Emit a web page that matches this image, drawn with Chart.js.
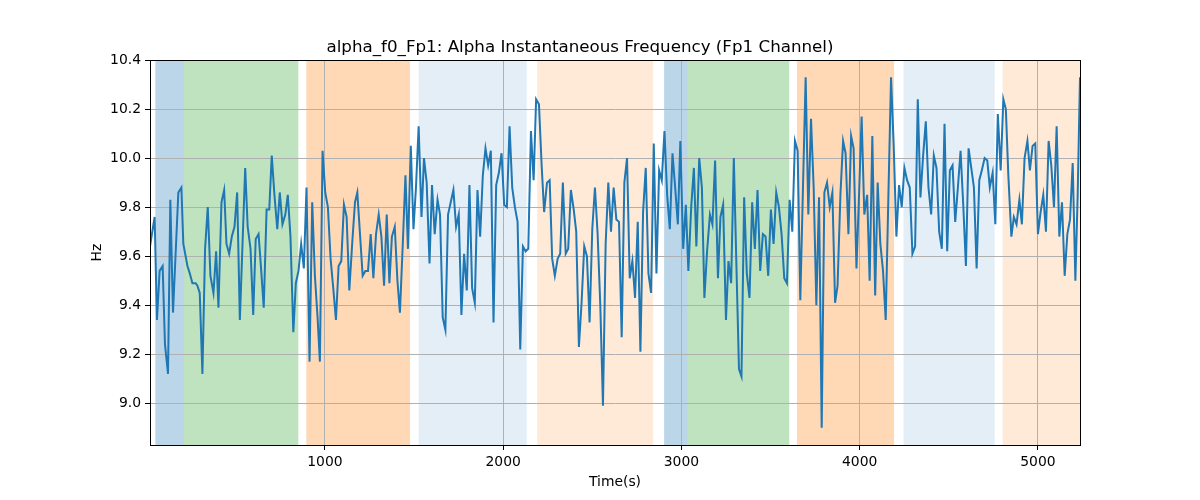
<!DOCTYPE html>
<html>
<head>
<meta charset="utf-8">
<title>alpha_f0_Fp1</title>
<script src="https://cdn.jsdelivr.net/npm/chart.js@4.4.1/dist/chart.umd.min.js"></script>
<style>
  html, body { margin: 0; padding: 0; background: #fff; }
  #wrap { width: 1200px; height: 500px; position: relative; }
</style>
</head>
<body>
<div id="wrap"><canvas id="myChart"></canvas></div>
<script>
// time in seconds
const times = [
  19, 45, 58, 73, 90, 103, 120, 133, 148, 178, 195, 206, 229, 242, 257, 275, 285, 298, 313, 328,
  343, 358, 375, 390, 403, 420, 435, 448, 463,
  478, 493, 508, 523, 538, 553, 567, 583, 598, 612, 628, 643, 657, 673, 688, 702, 717, 733, 747, 762,
  778, 792, 807, 823, 837, 852, 867, 882, 897,
  914, 929, 944, 959, 972, 987, 1002, 1017, 1032, 1047, 1062, 1077, 1092, 1107, 1122, 1137, 1154, 1169,
  1182, 1197, 1212, 1227, 1242, 1257, 1272, 1287, 1302, 1317, 1332,
  1347, 1362, 1376, 1392, 1407, 1421, 1437, 1452, 1466, 1482, 1497, 1511, 1526, 1542, 1556, 1571, 1587,
  1601, 1616, 1632, 1646, 1661, 1676, 1691, 1706, 1721, 1736, 1751, 1766,
  1781, 1796, 1811, 1826, 1841, 1856, 1871, 1886, 1901, 1916, 1931, 1946, 1961, 1976, 1991, 2006, 2021,
  2036, 2051, 2066, 2081, 2096, 2111, 2126, 2141, 2156, 2171, 2185, 2201, 2216,
  2230, 2246, 2261, 2275, 2290, 2306, 2320, 2335, 2351, 2365, 2380, 2396, 2410, 2425, 2440, 2455, 2470,
  2485, 2500, 2515, 2530, 2545, 2560, 2575, 2590, 2605, 2620, 2635, 2650,
  2665, 2680, 2695, 2710, 2725, 2740, 2755, 2770, 2785, 2800, 2815, 2830, 2845, 2860, 2875, 2890, 2905,
  2920, 2935, 2950, 2965, 2980, 2994, 3010, 3025, 3039, 3055, 3070, 3084,
  3100, 3115, 3129, 3144, 3160, 3174, 3189, 3205, 3219, 3234, 3250, 3264, 3279, 3294, 3309, 3323, 3337,
  3352, 3367, 3382, 3397, 3412, 3427, 3442, 3457, 3472, 3487, 3502, 3517, 3532,
  3547, 3562, 3577, 3592, 3607, 3622, 3637, 3652, 3667, 3682, 3697, 3712, 3727, 3742, 3757, 3772, 3787,
  3802, 3817, 3832, 3847, 3862, 3876, 3892, 3907, 3921, 3937, 3952, 3966,
  3982, 3997, 4011, 4026, 4042, 4056, 4071, 4087, 4101, 4116, 4131, 4146, 4161, 4176, 4191, 4206, 4221,
  4236, 4251, 4266, 4281, 4296, 4311, 4326, 4341, 4356, 4371, 4386, 4401,
  4416, 4431, 4446, 4461, 4476, 4491, 4506, 4521, 4536, 4551, 4566, 4581, 4596, 4611, 4626, 4641, 4656,
  4671, 4685, 4701, 4716, 4730, 4746, 4761, 4775, 4791, 4806, 4820, 4834,
  4851, 4865, 4880, 4896, 4910, 4925, 4941, 4955, 4970, 4985, 5000, 5015, 5030, 5045, 5060, 5075, 5090,
  5105, 5120, 5135, 5150, 5165, 5180, 5195, 5210, 5223, 5236
];

// instantaneous alpha frequency (Hz)
const hz = [
  9.64, 9.76, 9.34, 9.54, 9.56, 9.24, 9.12, 9.83, 9.37, 9.86, 9.88, 9.65, 9.56, 9.53, 9.49, 9.49, 9.48, 9.45, 9.12, 9.63,
  9.80, 9.52, 9.45, 9.62, 9.39, 9.82, 9.87, 9.65, 9.61,
  9.68, 9.72, 9.86, 9.34, 9.65, 9.96, 9.72, 9.63, 9.36, 9.67, 9.69, 9.54, 9.39, 9.79, 9.79, 10.01, 9.85, 9.71, 9.86, 9.73,
  9.77, 9.85, 9.68, 9.29, 9.49, 9.54, 9.65, 9.55, 9.88,
  9.17, 9.82, 9.52, 9.35, 9.17, 10.03, 9.86, 9.80, 9.59, 9.47, 9.34, 9.56, 9.58, 9.81, 9.76, 9.46, 9.66, 9.82,
  9.86, 9.69, 9.52, 9.54, 9.54, 9.69, 9.51, 9.69, 9.77, 9.68, 9.48,
  9.77, 9.49, 9.68, 9.72, 9.50, 9.37, 9.65, 9.93, 9.63, 10.05, 9.71, 9.88, 10.13, 9.76, 10.00, 9.90, 9.57,
  9.89, 9.69, 9.83, 9.77, 9.35, 9.30, 9.77, 9.82, 9.87, 9.72, 9.77, 9.36,
  9.61, 9.46, 9.89, 9.47, 9.41, 9.87, 9.68, 9.93, 10.04, 9.97, 10.03, 9.33, 9.89, 9.94, 10.02, 9.81, 9.80,
  10.13, 9.88, 9.80, 9.74, 9.22, 9.64, 9.62, 9.63, 10.11, 9.91, 10.24, 10.22, 9.97,
  9.78, 9.90, 9.91, 9.59, 9.52, 9.59, 9.61, 9.90, 9.61, 9.63, 9.87, 9.79, 9.70, 9.23, 9.41, 9.64, 9.60,
  9.33, 9.71, 9.88, 9.69, 9.40, 8.99, 9.65, 9.90, 9.70, 9.88, 9.75, 9.74,
  9.27, 9.90, 10.00, 9.51, 9.58, 9.43, 9.74, 9.21, 9.78, 9.96, 9.53, 9.45, 10.06, 9.53, 9.95, 9.91, 10.11,
  9.85, 9.71, 10.02, 9.88, 9.73, 10.07, 9.63, 9.81, 9.54, 9.80, 9.96, 9.64,
  10.00, 9.88, 9.43, 9.62, 9.77, 9.73, 9.99, 9.51, 9.76, 9.81, 9.34, 9.58, 9.49, 10.00, 9.55, 9.14, 9.11,
  9.84, 9.53, 9.43, 9.82, 9.63, 9.87, 9.54, 9.69, 9.68, 9.52, 9.79, 9.65, 9.86,
  9.80, 9.69, 9.51, 9.49, 9.83, 9.70, 10.07, 10.03, 9.42, 9.88, 10.33, 9.77, 10.16, 9.88, 9.40, 9.84, 8.90,
  9.86, 9.90, 9.80, 9.86, 9.41, 9.48, 9.85, 10.07, 10.02, 9.69, 10.09, 10.04,
  9.55, 9.86, 10.17, 9.77, 9.85, 9.50, 10.09, 9.44, 9.90, 9.65, 9.54, 9.34, 9.84, 10.33, 10.05, 9.68, 9.89,
  9.80, 9.96, 9.91, 9.88, 9.61, 9.64, 10.24, 9.84, 10.01, 10.15, 9.88, 9.77,
  10.01, 9.96, 9.70, 9.63, 10.14, 9.62, 9.95, 9.97, 9.74, 9.88, 10.03, 9.81, 9.56, 10.04, 9.96, 9.88, 9.55,
  9.91, 9.95, 10.00, 9.99, 9.88, 9.94, 9.73, 10.18, 9.95, 10.24, 10.20, 9.93,
  9.68, 9.76, 9.73, 9.83, 9.73, 10.00, 10.07, 9.95, 10.05, 10.06, 9.69, 9.78, 9.85, 9.70, 10.07, 9.97, 9.80,
  10.13, 9.68, 9.82, 9.52, 9.69, 9.75, 9.98, 9.50, 9.85, 10.33
];

// shaded epochs (seconds)
const spanStart = [49, 210, 896, 1526, 2191, 2903, 3036, 3648, 4246, 4802];
const spanEnd   = [210, 851, 1478, 2132, 2841, 3036, 3605, 4193, 4757, 5240];
const spanKind  = ['a', 'b', 'c', 'd', 'e', 'a', 'b', 'c', 'd', 'e'];

const xTicks = [1000, 2000, 3000, 4000, 5000];
const yTicks = [9.0, 9.2, 9.4, 9.6, 9.8, 10.0, 10.2, 10.4];

const spanColors = {
  a: 'rgba(31, 119, 180, 0.3)',
  b: 'rgba(44, 160, 44, 0.3)',
  c: 'rgba(255, 127, 14, 0.3)',
  d: 'rgba(31, 119, 180, 0.12)',
  e: 'rgba(255, 127, 14, 0.16)'
};

const FONT = 'DejaVu Sans';

// draw the spans before the grid so grid lines sit on top
const spansPlugin = {
  id: 'spans',
  beforeDraw(chart) {
    const {ctx, chartArea: a, scales: {x}} = chart;
    ctx.save();
    ctx.beginPath();
    ctx.rect(a.left, a.top, a.right - a.left, a.bottom - a.top);
    ctx.clip();
    for (let i = 0; i < spanStart.length; i++) {
      const x0 = x.getPixelForValue(spanStart[i]);
      const x1 = x.getPixelForValue(spanEnd[i]);
      ctx.fillStyle = spanColors[spanKind[i]];
      ctx.fillRect(x0, a.top, x1 - x0, a.bottom - a.top);
    }
    ctx.restore();
  },
  afterDraw(chart) {
    // top/right spines
    const {ctx, chartArea: a} = chart;
    ctx.save();
    ctx.strokeStyle = '#000';
    ctx.lineWidth = 1;
    ctx.strokeRect(Math.round(a.left) + 0.5, Math.round(a.top) + 0.5,
      Math.round(a.right - a.left), Math.round(a.bottom - a.top));
    ctx.restore();
  }
};

const ctx = document.getElementById('myChart').getContext('2d');
const data = {
  datasets: [{
    label: 'alpha_f0_Fp1',
    data: times.map((t, i) => ({x: t, y: hz[i]})),
    borderColor: '#1f77b4',
    borderWidth: 2,
    pointRadius: 0,
    tension: 0,
    fill: false
  }]
};

const config = {
  type: 'line',
  data: data,
  plugins: [spansPlugin],
  options: {
    responsive: true,
    maintainAspectRatio: false,
    animation: false,
    layout: { padding: { left: 80, right: 120, top: 0, bottom: 0 } },
    plugins: {
      legend: { display: false },
      tooltip: { enabled: false },
      title: {
        display: true,
        text: 'alpha_f0_Fp1: Alpha Instantaneous Frequency (Fp1 Channel)',
        color: '#000',
        font: { family: FONT, size: 16.7, weight: 'normal' },
        padding: { top: 38, bottom: 2 }
      }
    },
    scales: {
      x: {
        type: 'linear',
        min: times[0],
        max: times[times.length - 1],
        afterBuildTicks: axis => { axis.ticks = xTicks.map(v => ({value: v})); },
        afterFit: scale => { scale.height = 55; },
        grid: { color: '#b0b0b0', lineWidth: 1, tickColor: '#000', tickLength: 5, tickWidth: 1 },
        border: { color: '#000', width: 1 },
        ticks: {
          color: '#000',
          padding: 4,
          maxRotation: 0,
          font: { family: FONT, size: 13.9 },
          callback: v => String(v)
        },
        title: {
          display: true,
          text: 'Time(s)',
          color: '#000',
          font: { family: FONT, size: 13.9 },
          padding: { top: 2, bottom: 9 }
        }
      },
      y: {
        min: 8.83,
        max: 10.4,
        afterBuildTicks: axis => { axis.ticks = yTicks.map(v => ({value: v})); },
        afterFit: scale => { scale.width = 70; },
        grid: { color: '#b0b0b0', lineWidth: 1, tickColor: '#000', tickLength: 5, tickWidth: 1 },
        border: { color: '#000', width: 1 },
        ticks: {
          color: '#000',
          padding: 4,
          font: { family: FONT, size: 13.9 },
          callback: v => Number(v).toFixed(1)
        },
        title: {
          display: true,
          text: 'Hz',
          color: '#000',
          font: { family: FONT, size: 13.9 },
          padding: { top: 9, bottom: 0 }
        }
      }
    }
  }
};
const myChart = new Chart(ctx, config);
</script>
</body>
</html>
